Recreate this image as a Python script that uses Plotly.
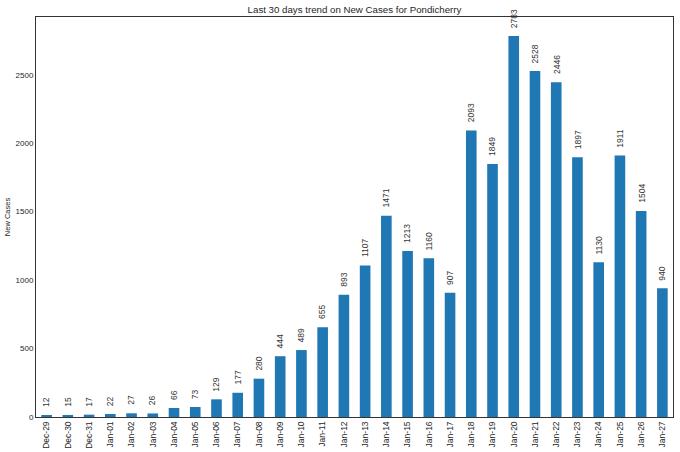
import plotly.graph_objects as go

dates = ["Dec-29", "Dec-30", "Dec-31", "Jan-01", "Jan-02", "Jan-03", "Jan-04", "Jan-05",
         "Jan-06", "Jan-07", "Jan-08", "Jan-09", "Jan-10", "Jan-11", "Jan-12", "Jan-13",
         "Jan-14", "Jan-15", "Jan-16", "Jan-17", "Jan-18", "Jan-19", "Jan-20", "Jan-21",
         "Jan-22", "Jan-23", "Jan-24", "Jan-25", "Jan-26", "Jan-27"]
new_cases = [12, 15, 17, 22, 27, 26, 66, 73, 129, 177, 280, 444, 489, 655, 893, 1107,
             1471, 1213, 1160, 907, 2093, 1849, 2783, 2528, 2446, 1897, 1130, 1911, 1504, 940]
y_ticks = [0, 500, 1000, 1500, 2000, 2500]

FONT = "Liberation Sans, Arial, sans-serif"

fig = go.Figure()
fig.add_trace(go.Bar(
    x=list(range(len(dates))), y=new_cases, width=0.5,
    marker=dict(color="#1f77b4", line=dict(width=0)),
    hoverinfo="skip",
))

for i, v in enumerate(new_cases):
    fig.add_annotation(
        x=i, y=v, text=str(v), textangle=-90, showarrow=False,
        xanchor="center", yanchor="bottom", yshift=6,
        font=dict(family=FONT, size=8.5, color="#333333"),
    )

fig.update_layout(
    width=680, height=452,
    margin=dict(l=36, r=7, t=17, b=35, autoexpand=False),
    paper_bgcolor="white", plot_bgcolor="white",
    showlegend=False,
    title=dict(text="Last 30 days trend on New Cases for Pondicherry",
               xref="paper", x=0.5, xanchor="center", y=1 - 10 / 452, yanchor="middle",
               font=dict(family=FONT, size=9.7, color="#262626")),
    font=dict(family=FONT, size=8, color="#262626"),
)
fig.update_xaxes(
    range=[-0.5, len(dates) - 0.5], automargin=False,
    tickmode="array", tickvals=list(range(len(dates))), ticktext=dates,
    tickangle=-90, showgrid=False, zeroline=False,
    showline=True, linecolor="#333333", linewidth=1, mirror=True,
    ticks="", tickfont=dict(size=8.5, color="#262626"),
)
fig.update_yaxes(
    range=[0, max(new_cases) * 1.05], automargin=False,
    tickmode="array", tickvals=y_ticks,
    showgrid=False, zeroline=False,
    showline=True, linecolor="#333333", linewidth=1, mirror=True,
    ticks="", tickfont=dict(size=8, color="#262626"),
    title=dict(text="New Cases", font=dict(size=7.5, color="#262626"), standoff=3),
)

fig.write_html("out.html", config={"displayModeBar": False},
               post_script="document.body.style.margin='0';document.body.style.overflow='hidden';")
